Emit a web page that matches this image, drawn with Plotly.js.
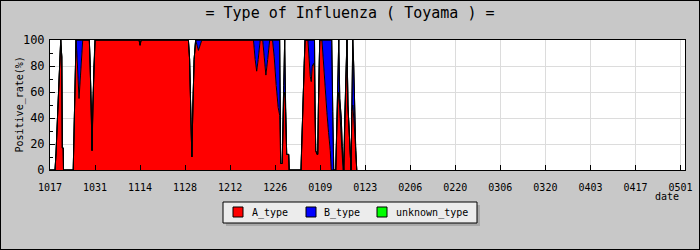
<!DOCTYPE html>
<html>
<head>
<meta charset="utf-8">
<script src="https://cdn.plot.ly/plotly-3.0.1.min.js"></script>
<style>
html,body{margin:0;padding:0;background:#c8c8c8;}
#chart{width:698px;height:248px;border:1px solid #000;}
</style>
</head>
<body>
<div id="chart"></div>
<script>
// Day offsets from 17 Oct (fractional where the reading fell between days)
const days = [0,1.56,1.87,2.27,2.58,2.96,3.33,3.67,3.83,4.11,4.20,7.22,7.34,7.56,7.78,8.09,8.31,8.62,9.02,9.49,9.86,10.17,12.23,12.51,12.82,13.07,13.32,13.63,14.00,27.69,28.00,28.31,43.03,43.40,43.72,44.09,44.43,44.80,45.27,46.14,47.20,63.25,63.78,64.25,64.72,65.34,66.12,66.58,67.11,67.67,68.30,69.17,69.70,70.32,70.94,71.41,71.72,72.18,72.65,72.96,73.27,73.58,74.21,74.36,78.03,78.16,78.72,79.03,79.28,80.18,80.58,80.90,81.21,81.52,81.99,82.23,82.39,82.61,83.01,83.23,83.45,83.64,83.85,84.54,85.03,85.41,85.78,86.09,86.59,87.12,87.43,87.59,87.90,88.21,88.83,89.14,89.39,89.77,90.08,90.54,90.85,91.10,91.32,91.63,91.94,92.31,92.62,93.18,93.50,93.59,93.81,94.12,94.43,94.74,95.05,95.36];
const aType = [0,0,13,37,63,87,100,87,17,17,0,0,15,50,85,100,92,73,55,73,90,100,100,80,50,15,50,80,100,100,96,100,100,85,50,10,50,85,100,92,100,100,85,76,85,100,100,85,73,85,100,100,87,65,48,42,5,5,55,60,45,12,12,0,0,13,50,82,100,100,80,72,68,80,82,78,45,15,12,12,50,82,100,100,80,65,52,44,29,15,0,0,0,0,0,30,50,60,45,30,18,0,0,40,77,100,50,20,0,0,45,50,40,30,15,0];
const bType = [0,0,0,0,0,0,0,0,0,0,0,0,0,0,0,0,8,27,45,27,10,0,0,0,0,0,0,0,0,0,0,0,0,0,0,0,0,0,0,8,0,0,15,24,15,0,0,15,27,15,0,0,13,35,52,58,0,0,10,40,0,0,0,0,0,0,0,0,0,0,20,28,32,20,18,22,5,0,0,0,0,0,0,0,20,35,48,56,71,85,100,100,45,0,0,0,0,40,10,10,0,0,0,0,0,0,0,0,0,0,0,50,40,10,0,0];
const unknownType = [0,0,0,0,0,0,0,0,0,0,0,0,0,0,0,0,0,0,0,0,0,0,0,0,0,0,0,0,0,0,0,0,0,0,0,0,0,0,0,0,0,0,0,0,0,0,0,0,0,0,0,0,0,0,0,0,0,0,0,0,0,0,0,0,0,0,0,0,0,0,0,0,0,0,0,0,0,0,0,0,0,0,0,0,0,0,0,0,0,0,0,0,0,0,0,0,0,0,0,0,0,0,0,0,0,0,0,0,0,0,0,0,0,0,0,0];
const tickLabels = ['1017','1031','1114','1128','1212','1226','0109','0123','0206','0220','0306','0320','0403','0417','0501'];
const seriesNames = ['A_type','B_type','unknown_type'];
const seriesColors = ['#ff0000','#0000ff','#00ff00'];
const yTickLabels = ['0','20','40','60','80','100'];

const mono = 'DejaVu Sans Mono, monospace';
const series = [aType, bType, unknownType];
const traces = series.map((vals, i) => ({
  type: 'scatter', mode: 'lines', x: days, y: vals,
  stackgroup: 'one', name: seriesNames[i],
  fillcolor: seriesColors[i], line: {color: '#000', width: 1},
  showlegend: false, hoverinfo: 'skip'
}));

const W = 698, H = 248, L = 49, R = 14, T = 39, B = 79;
const pw = W - L - R, ph = H - T - B;
const px = X => (X - 1 - L) / pw;
const py = Y => 1 - (Y - 1 - T) / ph;

// hand-built legend (box with shadow, swatches, labels)
const legendSwatchX = [233, 306, 377];
const legendTextX = [250, 322, 394];
const shapes = [
  {type: 'rect', xref: 'paper', yref: 'paper', layer: 'above',
   x0: px(226), x1: px(480), y0: py(226), y1: py(205), fillcolor: '#a8a8a8', line: {width: 0}},
  {type: 'rect', xref: 'paper', yref: 'paper', layer: 'above',
   x0: px(223), x1: px(477), y0: py(223), y1: py(202), fillcolor: '#ececec', line: {color: '#000', width: 1}}
];
const annotations = [];
seriesNames.forEach((n, i) => {
  shapes.push({type: 'rect', xref: 'paper', yref: 'paper', layer: 'above',
    x0: px(legendSwatchX[i]), x1: px(legendSwatchX[i] + 10), y0: py(217), y1: py(207),
    fillcolor: seriesColors[i], line: {color: '#000', width: 1}});
  annotations.push({text: n, xref: 'paper', yref: 'paper', x: px(legendTextX[i]), y: py(212.5),
    xanchor: 'left', yanchor: 'middle', showarrow: false,
    font: {family: mono, size: 10, color: '#000'}});
});
annotations.push({
  text: 'date', xref: 'paper', yref: 'paper', x: px(667), y: py(196),
  xanchor: 'center', yanchor: 'middle', showarrow: false,
  font: {family: mono, size: 10, color: '#000'}
});
annotations.push({
  text: 'Positive_rate(%)', xref: 'paper', yref: 'paper', x: px(19.5), y: py(105),
  xanchor: 'center', yanchor: 'middle', textangle: -90, showarrow: false,
  font: {family: mono, size: 10, color: '#000'}
});

const layout = {
  width: W, height: H,
  margin: {l: L, r: R, t: T, b: B, pad: 0},
  paper_bgcolor: '#c8c8c8', plot_bgcolor: '#ffffff',
  showlegend: false,
  title: {text: '= Type of Influenza ( Toyama ) =', font: {family: mono, size: 15, color: '#000'},
          x: 0.5, xref: 'container', y: 1 - 12/H, yref: 'container', yanchor: 'middle'},
  xaxis: {
    range: [0, 197.4], tickmode: 'array',
    tickvals: tickLabels.map((_, i) => i * 14), ticktext: tickLabels,
    ticks: 'inside', ticklen: 5, tickcolor: '#000', ticklabelstandoff: 8,
    tickfont: {family: mono, size: 10, color: '#000'},
    showgrid: true, gridcolor: '#dcdcdc', gridwidth: 1,
    showline: true, linecolor: '#000', linewidth: 1, mirror: true, zeroline: false,
    fixedrange: true
  },
  yaxis: {
    range: [0, 100], tickmode: 'array', tickvals: yTickLabels.map(Number), ticktext: yTickLabels,
    ticks: 'inside', ticklen: 5, tickcolor: '#000', ticklabelstandoff: 2,
    minor: {ticks: 'inside', ticklen: 3, dtick: 10, tickcolor: '#000', showgrid: false},
    tickfont: {family: mono, size: 12, color: '#000'},
    showgrid: true, gridcolor: '#dcdcdc', gridwidth: 1,
    showline: true, linecolor: '#000', linewidth: 1, mirror: true, zeroline: false,
    fixedrange: true
  },
  annotations: annotations,
  shapes: shapes
};

Plotly.newPlot('chart', traces, layout, {displayModeBar: false, staticPlot: true});
</script>
</body>
</html>
